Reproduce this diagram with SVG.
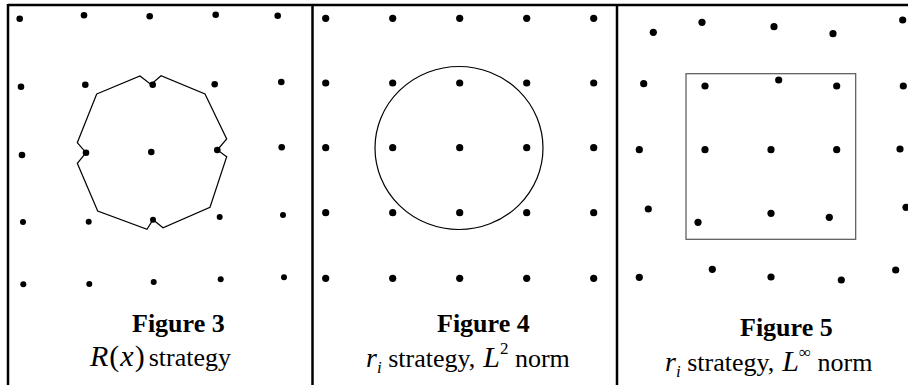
<svg xmlns="http://www.w3.org/2000/svg" width="908" height="385" viewBox="0 0 908 385">
<style>
.frame{stroke:#000;stroke-width:2.5;fill:none}
.dot{fill:#000}
.shape{fill:none;stroke:#000;stroke-width:1.2}
.sq{fill:none;stroke:#555;stroke-width:1.2}
.t, .t tspan{font-family:"Liberation Serif","Times New Roman",serif;fill:#000}
.fig{font-weight:bold;font-size:26px}
.cap{font-size:26px}
.it{font-style:italic}
</style>
<rect width="908" height="385" fill="#fff"/>
<g id="frame">
<line class="frame" x1="8" y1="5" x2="908" y2="5"/>
<line class="frame" x1="8" y1="4" x2="8" y2="385"/>
<line class="frame" x1="312.5" y1="4" x2="312.5" y2="385"/>
<line class="frame" x1="617" y1="4" x2="617" y2="385"/>
</g>
<g id="figure3">
<g class="dot">
<circle cx="19.7" cy="18.7" r="3.3"/><circle cx="84" cy="15.3" r="3.3"/><circle cx="149.7" cy="16.3" r="3.3"/><circle cx="215.7" cy="14.7" r="3.3"/><circle cx="277.7" cy="15.7" r="3.3"/>
<circle cx="21" cy="86.7" r="3.3"/><circle cx="85.3" cy="84.7" r="3.3"/><circle cx="152.7" cy="84.7" r="3.3"/><circle cx="214.7" cy="84.3" r="3.3"/><circle cx="281.3" cy="82" r="3.3"/>
<circle cx="22" cy="155" r="3.3"/><circle cx="86" cy="152.7" r="3.3"/><circle cx="151.3" cy="152" r="3.3"/><circle cx="217.3" cy="150" r="3.3"/><circle cx="281.7" cy="147.3" r="3.3"/>
<circle cx="23" cy="222" r="3"/><circle cx="88.7" cy="221.7" r="3"/><circle cx="153" cy="219.7" r="3"/><circle cx="219.7" cy="217" r="3"/><circle cx="283" cy="215" r="3"/>
<circle cx="23.3" cy="284.3" r="3"/><circle cx="89.3" cy="284" r="3"/><circle cx="153.7" cy="282" r="3"/><circle cx="220.7" cy="279.3" r="3"/><circle cx="284" cy="277.3" r="3"/>
</g>
<polygon class="shape" points="96.7,94 140,76 151,84.5 161,75.7 205,94 226.7,139 217.3,150 226.7,156.7 210,207.3 163,227.7 153,219.7 147,229.3 97.7,211 77.3,163.3 86,152.7 77.3,142.7"/>
<text class="t fig" x="132" y="332">Figure 3</text>
<text class="t cap" x="90" y="366"><tspan class="it" font-size="30">R</tspan><tspan font-size="30" dx="1">(</tspan><tspan class="it" font-size="30" dx="1">x</tspan><tspan font-size="30" dx="1">)</tspan><tspan dx="4">strategy</tspan></text>
</g>
<g id="figure4">
<g class="dot">
<circle cx="325.7" cy="18.3" r="3.6"/><circle cx="392.7" cy="18.3" r="3.6"/><circle cx="459.7" cy="18.3" r="3.6"/><circle cx="526.7" cy="18.3" r="3.6"/><circle cx="593.7" cy="18.3" r="3.6"/>
<circle cx="325.7" cy="83" r="3.6"/><circle cx="392.7" cy="83" r="3.6"/><circle cx="459.7" cy="83" r="3.6"/><circle cx="526.7" cy="83" r="3.6"/><circle cx="593.7" cy="83" r="3.6"/>
<circle cx="325.7" cy="147.7" r="3.6"/><circle cx="392.7" cy="147.7" r="3.6"/><circle cx="459.7" cy="147.7" r="3.6"/><circle cx="526.7" cy="147.7" r="3.6"/><circle cx="593.7" cy="147.7" r="3.6"/>
<circle cx="325.7" cy="212.7" r="3.6"/><circle cx="392.7" cy="212.7" r="3.6"/><circle cx="459.7" cy="212.7" r="3.6"/><circle cx="526.7" cy="212.7" r="3.6"/><circle cx="593.7" cy="212.7" r="3.6"/>
<circle cx="325.7" cy="278.3" r="3.6"/><circle cx="392.7" cy="278.3" r="3.6"/><circle cx="459.7" cy="278.3" r="3.6"/><circle cx="526.7" cy="278.3" r="3.6"/><circle cx="593.7" cy="278.3" r="3.6"/>
</g>
<ellipse class="shape" cx="459" cy="148" rx="84" ry="81.5"/>
<text class="t fig" x="437" y="332">Figure 4</text>
<text class="t cap" x="366" y="367"><tspan class="it" font-size="28">r</tspan><tspan class="it" font-size="17" dy="6">i</tspan><tspan dy="-6"> strategy,</tspan><tspan class="it" font-size="30" dx="8">L</tspan><tspan font-size="17" dy="-13">2</tspan><tspan dy="13"> norm</tspan></text>
</g>
<g id="figure5">
<g class="dot">
<circle cx="653.3" cy="32.3" r="3.6"/><circle cx="702" cy="22.3" r="3.6"/><circle cx="774" cy="26.7" r="3.6"/><circle cx="833" cy="33.7" r="3.6"/><circle cx="902.7" cy="20" r="3.6"/>
<circle cx="643.7" cy="83.7" r="3.6"/><circle cx="705" cy="86" r="3.6"/><circle cx="778.7" cy="80" r="3.6"/><circle cx="836.7" cy="86" r="3.6"/><circle cx="903.3" cy="86" r="3.6"/>
<circle cx="639.3" cy="149.7" r="3.6"/><circle cx="705" cy="149.7" r="3.6"/><circle cx="771" cy="149.7" r="3.6"/><circle cx="836.7" cy="149.7" r="3.6"/><circle cx="900" cy="149" r="3.6"/>
<circle cx="648.3" cy="209" r="3.6"/><circle cx="698" cy="222.3" r="3.6"/><circle cx="771" cy="213.3" r="3.6"/><circle cx="829.3" cy="217.3" r="3.6"/><circle cx="906" cy="207.3" r="3.6"/>
<circle cx="639.3" cy="277.3" r="3.6"/><circle cx="712.3" cy="269.3" r="3.6"/><circle cx="771" cy="277" r="3.6"/><circle cx="841.3" cy="280" r="3.6"/><circle cx="895.7" cy="270" r="3.6"/>
</g>
<rect class="sq" x="686" y="73.7" width="169.7" height="165.6"/>
<text class="t fig" x="740" y="336">Figure 5</text>
<text class="t cap" x="665" y="371"><tspan class="it" font-size="28">r</tspan><tspan class="it" font-size="17" dy="6">i</tspan><tspan dy="-6"> strategy,</tspan><tspan class="it" font-size="30" dx="8">L</tspan><tspan font-size="17" dy="-13">∞</tspan><tspan dy="13"> norm</tspan></text>
</g>
</svg>
